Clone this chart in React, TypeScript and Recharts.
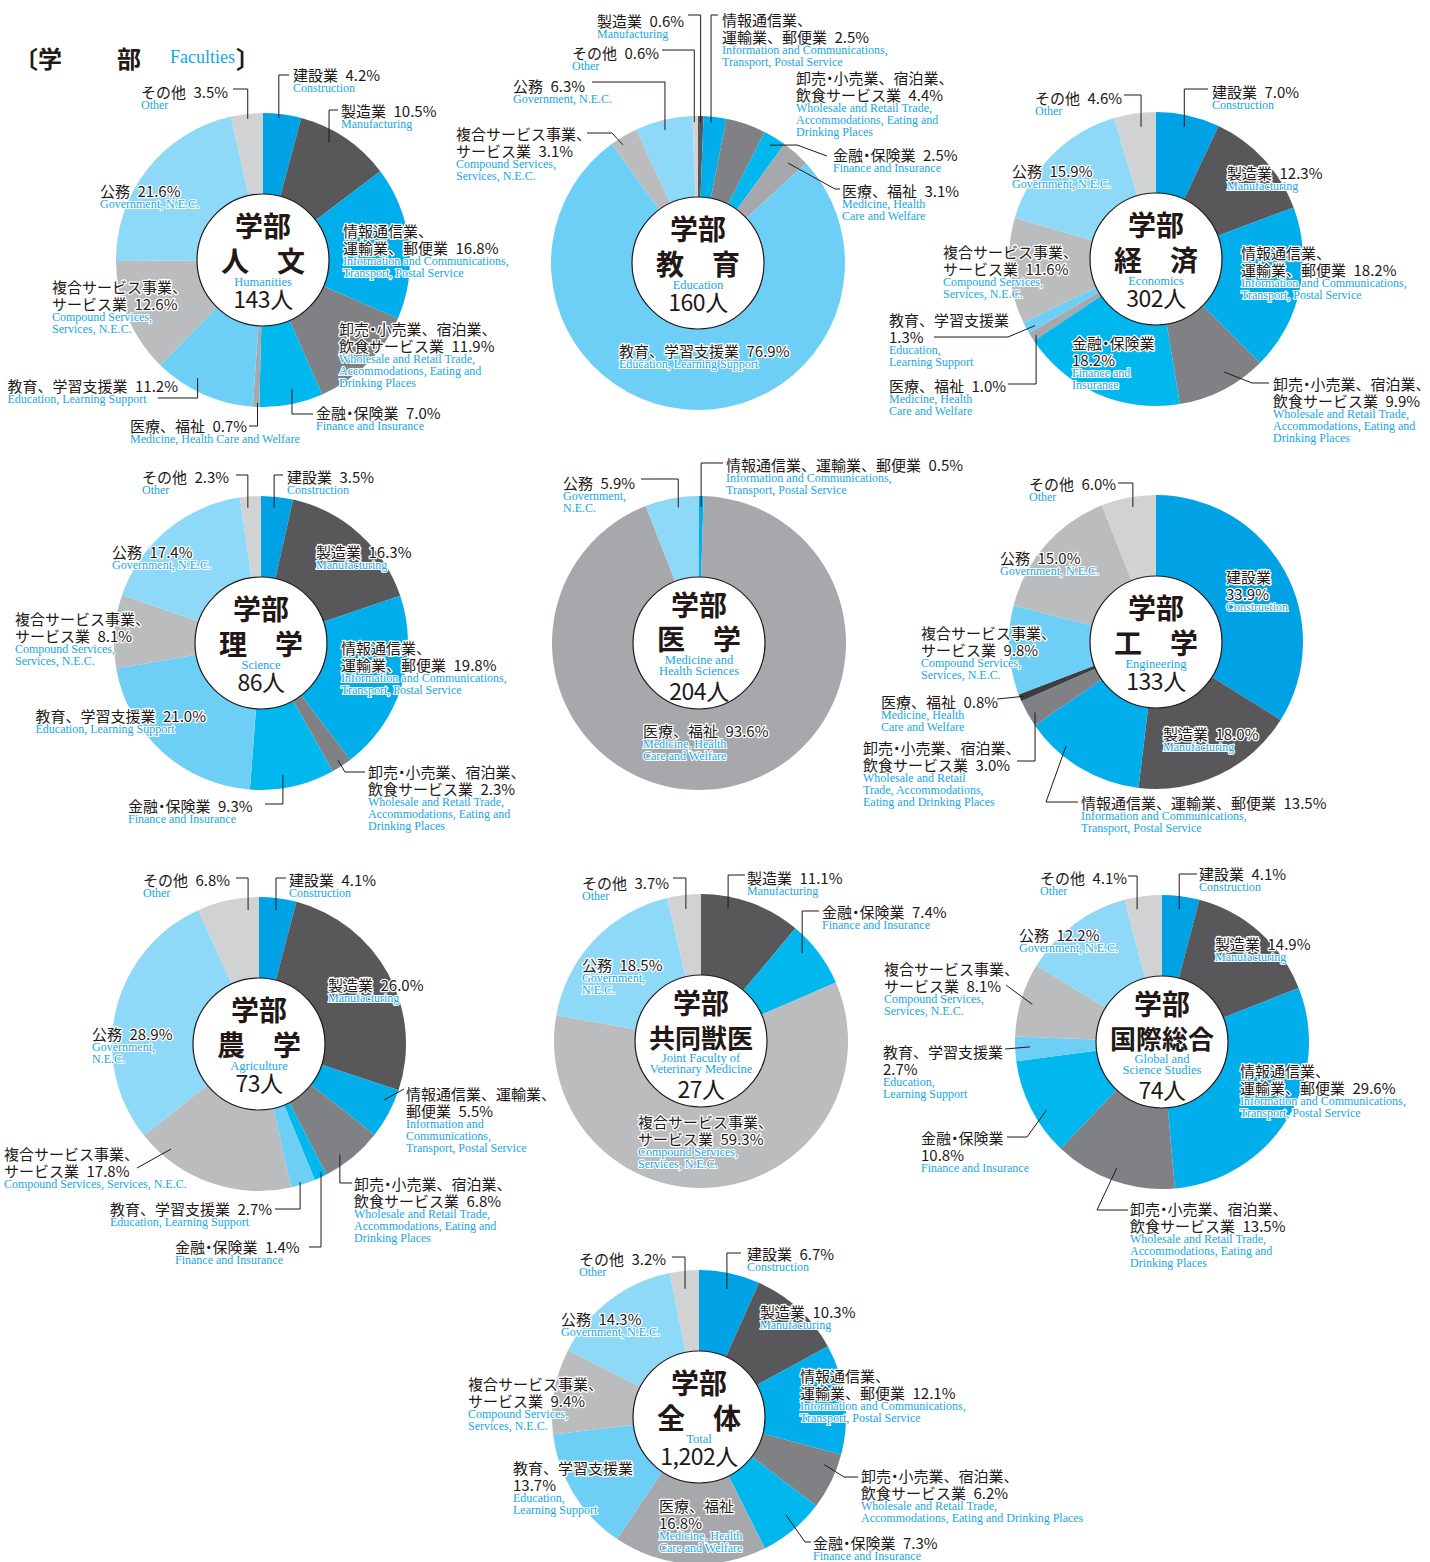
import React from 'react';
import { PieChart, Pie, Cell } from 'recharts';

// industry categories, in the order the slices run clockwise from 12 o'clock
const CATEGORIES = [
  '建設業', '製造業', '情報通信業、運輸業、郵便業', '卸売・小売業、宿泊業、飲食サービス業', '金融・保険業',
  '医療、福祉', '教育、学習支援業', '複合サービス事業、サービス業', '公務', 'その他',
];

// share of graduates (%) per category, 0 = no slice
const humanities = [4.2, 10.5, 16.8, 11.9, 7.0, 0.7, 11.2, 12.6, 21.6, 3.5];
const education = [0, 0.6, 2.5, 4.4, 2.5, 3.1, 76.9, 3.1, 6.3, 0.6];
const economics = [7.0, 12.3, 18.2, 9.9, 18.2, 1.0, 1.3, 11.6, 15.9, 4.6];
const science = [3.5, 16.3, 19.8, 2.3, 9.3, 0, 21.0, 8.1, 17.4, 2.3];
const medicine = [0, 0, 0.5, 0, 0, 93.6, 0, 0, 5.9, 0];
const engineering = [33.9, 18.0, 13.5, 3.0, 0, 0.8, 0, 9.8, 15.0, 6.0];
const agriculture = [4.1, 26.0, 5.5, 6.8, 1.4, 0, 2.7, 17.8, 28.9, 6.8];
const veterinary = [0, 11.1, 0, 0, 7.4, 0, 0, 59.3, 18.5, 3.7];
const globalStudies = [4.1, 14.9, 29.6, 13.5, 10.8, 0, 2.7, 8.1, 12.2, 4.1];
const total = [6.7, 10.3, 12.1, 6.2, 7.3, 16.8, 13.7, 9.4, 14.3, 3.2];

const SHARES = [humanities, education, economics, science, medicine, engineering, agriculture, veterinary, globalStudies, total];
const FACULTIES = ['人文', '教育', '経済', '理学', '医学', '工学', '農学', '共同獣医', '国際総合', '全体'];
const FACULTIES_EN = [
  ['Humanities'], ['Education'], ['Economics'], ['Science'], ['Medicine and', 'Health Sciences'],
  ['Engineering'], ['Agriculture'], ['Joint Faculty of', 'Veterinary Medicine'], ['Global and', 'Science Studies'], ['Total'],
];
const GRADUATES = [143, 160, 302, 86, 204, 133, 73, 27, 74, 1202];

// default label text per category ({v} = percentage)
const JP_TPL = [
  ['建設業 {v}'], ['製造業 {v}'], ['情報通信業、', '運輸業、郵便業 {v}'], ['卸売・小売業、宿泊業、', '飲食サービス業 {v}'],
  ['金融・保険業 {v}'], ['医療、福祉 {v}'], ['教育、学習支援業 {v}'], ['複合サービス事業、', 'サービス業 {v}'], ['公務 {v}'], ['その他 {v}'],
];
const EN_TPL = [
  ['Construction'], ['Manufacturing'], ['Information and Communications,', 'Transport, Postal Service'],
  ['Wholesale and Retail Trade,', 'Accommodations, Eating and', 'Drinking Places'], ['Finance and Insurance'],
  ['Medicine, Health', 'Care and Welfare'], ['Education, Learning Support'], ['Compound Services,', 'Services, N.E.C.'],
  ['Government, N.E.C.'], ['Other'],
];

const W = 1430;
const H = 1562;
const R = 147;
const INK = '#231815';
const CYAN = '#18a6e3';
const JP_FONT = "'Noto Sans CJK JP', 'Noto Sans', sans-serif";
const EN_FONT = "'Liberation Serif', 'DejaVu Serif', serif";

const PALETTE = ['#00a2e6', '#58585a', '#00aeec', '#808184', '#00b8ee', '#a6a8ab', '#6dcff6', '#babcbe', '#8ed8f8', '#d1d2d4'];

type Pt = [number, number];
type Lead = { from: Pt; via?: Pt[]; t: number; r: number; elbow?: boolean };
type Lab = { x: number; y: number; jp?: string[]; en?: string[]; lead?: Lead };
type PieLayout = { cx: number; cy: number; colors?: Record<number, string>; labels: Record<number, Lab> };

const LAYOUT: PieLayout[] = [
  { cx: 263, cy: 260, labels: {
    0: { x: 293, y: 73.5, lead: { from: [289, 75], t: 0.42, r: 143, elbow: true } },
    1: { x: 341, y: 110, lead: { from: [338, 110], t: 0.375, r: 135, elbow: true } },
    2: { x: 343, y: 229.5 },
    3: { x: 339, y: 328 },
    4: { x: 316, y: 412, lead: { from: [313, 414], t: 0.44, r: 132, elbow: true } },
    5: { x: 130, y: 425, en: ['Medicine, Health Care and Welfare'], lead: { from: [249, 426], t: 0.3, r: 143, elbow: true } },
    6: { x: 7.5, y: 385, lead: { from: [158, 398], t: 0.62, r: 135, elbow: true } },
    7: { x: 52, y: 286 },
    8: { x: 100, y: 190 },
    9: { x: 141, y: 91, lead: { from: [233, 89], t: 0.51, r: 142, elbow: true } },
  } },
  { cx: 698, cy: 263, labels: {
    1: { x: 597, y: 20, lead: { from: [688, 15], t: 0.5, r: 140, elbow: true } },
    2: { x: 722, y: 19, lead: { from: [718, 15], t: 0.35, r: 141, elbow: true } },
    3: { x: 796, y: 77 },
    4: { x: 833, y: 154, lead: { from: [827, 156], via: [[797, 145]], t: 0.49, r: 138 } },
    5: { x: 842, y: 190, lead: { from: [840, 189], via: [[835, 189]], t: 0.54, r: 134.5 } },
    6: { x: 619, y: 350 },
    7: { x: 456, y: 133, lead: { from: [587, 133], via: [[612, 133]], t: 0.32, r: 140 } },
    8: { x: 513, y: 85, lead: { from: [592, 82], t: 0.48, r: 137, elbow: true } },
    9: { x: 572, y: 52, lead: { from: [662, 50], t: 0.3, r: 141, elbow: true } },
  } },
  { cx: 1156, cy: 259, labels: {
    0: { x: 1212, y: 91, lead: { from: [1208, 89], t: 0.48, r: 135, elbow: true } },
    1: { x: 1227, y: 172 },
    2: { x: 1241, y: 252 },
    3: { x: 1273, y: 383, lead: { from: [1269, 383], via: [[1252, 383]], t: 0.39, r: 132 } },
    4: { x: 1072, y: 342, jp: ['金融・保険業', '{v}'], en: ['Finance and', 'Insurance'] },
    5: { x: 889, y: 385, lead: { from: [1008, 384], t: 0.4, r: 142, elbow: true } },
    6: { x: 889, y: 319, jp: ['教育、学習支援業', '{v}'], en: ['Education,', 'Learning Support'], lead: { from: [934, 337], via: [[1008, 337]], t: 0.3, r: 138 } },
    7: { x: 943, y: 251 },
    8: { x: 1012, y: 170 },
    9: { x: 1035, y: 97, lead: { from: [1124, 95], t: 0.61, r: 133, elbow: true } },
  } },
  { cx: 261, cy: 643, labels: {
    0: { x: 287, y: 476, lead: { from: [283, 475], t: 0.44, r: 136, elbow: true } },
    1: { x: 316, y: 551 },
    2: { x: 341, y: 647 },
    3: { x: 368, y: 771, lead: { from: [365, 772], via: [[345, 772]], t: 0.5, r: 140 } },
    4: { x: 128, y: 805, lead: { from: [265, 804], t: 0.59, r: 134, elbow: true } },
    6: { x: 35.5, y: 715 },
    7: { x: 15, y: 618 },
    8: { x: 112, y: 551 },
    9: { x: 142, y: 476, lead: { from: [236, 475], t: 0.33, r: 136, elbow: true } },
  } },
  { cx: 699, cy: 643, labels: {
    2: { x: 726, y: 464, jp: ['情報通信業、運輸業、郵便業 {v}'], lead: { from: [723, 463], t: 0.5, r: 136, elbow: true } },
    5: { x: 643, y: 730 },
    8: { x: 563, y: 482, en: ['Government,', 'N.E.C.'], lead: { from: [641, 479], t: 0.59, r: 137, elbow: true } },
  } },
  { cx: 1156, cy: 642, colors: { 5: '#3e3e40', 7: '#6dcff6', 8: '#babcbe' }, labels: {
    0: { x: 1226, y: 576, jp: ['建設業', '{v}'] },
    1: { x: 1163, y: 733 },
    2: { x: 1081, y: 802, jp: ['情報通信業、運輸業、郵便業 {v}'], lead: { from: [1078, 802], via: [[1046, 802]], t: 0.7, r: 137.5 } },
    3: { x: 863, y: 747, en: ['Wholesale and Retail', 'Trade, Accommodations,', 'Eating and Drinking Places'], lead: { from: [1017, 761], t: 0.4, r: 140, elbow: true } },
    5: { x: 881, y: 701, lead: { from: [997, 699], t: 0.5, r: 143 } },
    7: { x: 921, y: 632 },
    8: { x: 1000, y: 557 },
    9: { x: 1029, y: 483, lead: { from: [1118, 483], t: 0.55, r: 137, elbow: true } },
  } },
  { cx: 259, cy: 1044, labels: {
    0: { x: 289, y: 879, lead: { from: [286, 878], t: 0.49, r: 135, elbow: true } },
    1: { x: 328, y: 984 },
    2: { x: 406, y: 1093, jp: ['情報通信業、運輸業、', '郵便業 {v}'], en: ['Information and', 'Communications,', 'Transport, Postal Service'], lead: { from: [404, 1089], t: 0.29, r: 137 } },
    3: { x: 354, y: 1183, lead: { from: [352, 1183], t: 0.64, r: 137, elbow: true } },
    4: { x: 175, y: 1246, lead: { from: [309, 1247], t: 0.29, r: 142, elbow: true } },
    6: { x: 110, y: 1208, lead: { from: [275, 1209], t: 0.59, r: 144, elbow: true } },
    7: { x: 4, y: 1153, en: ['Compound Services, Services, N.E.C.'], lead: { from: [137, 1168], t: 0.82, r: 137 } },
    8: { x: 92, y: 1033, en: ['Government,', 'N.E.C.'] },
    9: { x: 143, y: 879, lead: { from: [236, 878], t: 0.81, r: 134.5, elbow: true } },
  } },
  { cx: 701, cy: 1041, labels: {
    1: { x: 747, y: 877, lead: { from: [745, 875], t: 0.29, r: 135, elbow: true } },
    4: { x: 822, y: 911, lead: { from: [819, 911], t: 0.34, r: 134, elbow: true } },
    7: { x: 638, y: 1121 },
    8: { x: 582, y: 964, en: ['Government,', 'N.E.C.'] },
    9: { x: 582, y: 882, lead: { from: [673, 878], t: 0.51, r: 133, elbow: true } },
  } },
  { cx: 1162, cy: 1042, labels: {
    0: { x: 1199, y: 873, lead: { from: [1197, 874], t: 0.5, r: 134, elbow: true } },
    1: { x: 1215, y: 943 },
    2: { x: 1240, y: 1070 },
    3: { x: 1130, y: 1208, lead: { from: [1128, 1210], via: [[1097, 1210]], t: 0.51, r: 134 } },
    4: { x: 921, y: 1137, jp: ['金融・保険業', '{v}'], lead: { from: [1007, 1137], via: [[1027, 1137]], t: 0.41, r: 134 } },
    6: { x: 883, y: 1051, jp: ['教育、学習支援業', '{v}'], en: ['Education,', 'Learning Support'], lead: { from: [1005, 1049], t: 0.56, r: 132 } },
    7: { x: 884, y: 968, lead: { from: [1006, 985], t: 0.48, r: 135 } },
    8: { x: 1019, y: 934 },
    9: { x: 1040, y: 877, lead: { from: [1128, 876], t: 0.28, r: 135, elbow: true } },
  } },
  { cx: 699, cy: 1417, labels: {
    0: { x: 747, y: 1253, lead: { from: [741, 1253], t: 0.51, r: 131, elbow: true } },
    1: { x: 760, y: 1311 },
    2: { x: 800, y: 1375 },
    3: { x: 861, y: 1475, en: ['Wholesale and Retail Trade,', 'Accommodations, Eating and Drinking Places'], lead: { from: [858, 1477], via: [[844, 1477]], t: 0.27, r: 134 } },
    4: { x: 813, y: 1542, lead: { from: [811, 1542], via: [[805, 1542]], t: 0.43, r: 131 } },
    5: { x: 659, y: 1505, jp: ['医療、福祉', '{v}'] },
    6: { x: 513, y: 1467, jp: ['教育、学習支援業', '{v}'], en: ['Education,', 'Learning Support'] },
    7: { x: 468, y: 1383 },
    8: { x: 561, y: 1318 },
    9: { x: 579, y: 1258, lead: { from: [672, 1257], t: 0.46, r: 129, elbow: true } },
  } },
];

const halo = { paintOrder: 'stroke' as const };

// the middle dot is set half width in the original
function jpLine(s: string) {
  const parts = s.split('・');
  return parts.flatMap((part, k) =>
    k === 0
      ? [<tspan key={'p' + k}>{part}</tspan>]
      : [<tspan key={'d' + k} dx={-3.8}>・</tspan>, <tspan key={'p' + k} dx={-3.8}>{part}</tspan>],
  );
}

function makeLabel(li: number) {
  const pie = LAYOUT[li];
  return (p: any) => {
    const cat = p?.payload?.cat ?? p.cat;
    const lab = pie.labels[cat];
    if (!lab) return null;
    const pct = `${Number(p.value).toFixed(1)}%`;
    const jp = (lab.jp ?? JP_TPL[cat]).map(s => s.replace(' {v}', '\u2002' + pct).replace('{v}', pct));
    const en = lab.en ?? EN_TPL[cat];
    let lead = null;
    if (lab.lead) {
      const { from, via = [], t, r, elbow } = lab.lead;
      const s = p.startAngle ?? p.midAngle;
      const e = p.endAngle ?? p.midAngle;
      const a = ((s + (e - s) * t) * Math.PI) / 180;
      const px = pie.cx + r * Math.cos(a);
      const py = pie.cy - r * Math.sin(a);
      const pts: Pt[] = [from, ...via];
      if (elbow) pts.push([px, pts[pts.length - 1][1]]);
      pts.push([px, py]);
      lead = <polyline points={pts.map(q => q.join(',')).join(' ')} fill="none" stroke={INK} strokeWidth={1} />;
    }
    const enY = lab.y + (jp.length - 1) * 17 + 14;
    return (
      <g>
        {lead}
        {jp.map((s, i) => (
          <text key={'j' + i} x={lab.x} y={lab.y + i * 17} dominantBaseline="central" fontFamily={JP_FONT} fontSize={15}
            fill={INK} stroke="#fff" strokeWidth={2.6} strokeLinejoin="round" style={halo}>{jpLine(s)}</text>
        ))}
        {en.map((s, i) => (
          <text key={'e' + i} x={lab.x} y={enY + i * 12} dominantBaseline="central" fontFamily={EN_FONT} fontSize={12}
            fill={CYAN} stroke="#fff" strokeWidth={2.2} strokeLinejoin="round" style={halo}>{s}</text>
        ))}
      </g>
    );
  };
}

function CenterDisc({ i }: { i: number }) {
  const { cx, cy } = LAYOUT[i];
  const name = FACULTIES[i].length === 2 ? FACULTIES[i][0] + '\u3000' + FACULTIES[i][1] : FACULTIES[i];
  const en = FACULTIES_EN[i];
  const two = en.length === 2;
  const nameSize = FACULTIES[i].length === 2 ? 28 : 26;
  return (
    <g>
      <circle cx={cx} cy={cy} r={66} fill="#fff" stroke={INK} strokeWidth={1.2} />
      <text x={cx} y={cy + (two ? -39 : -35)} textAnchor="middle" dominantBaseline="central" fontFamily={JP_FONT} fontSize={28} fontWeight={700} fill={INK}>学部</text>
      <text x={cx} y={cy + (two ? -5 : 0)} textAnchor="middle" dominantBaseline="central" fontFamily={JP_FONT} fontSize={nameSize} fontWeight={700} fill={INK}>{name}</text>
      {en.map((s, k) => (
        <text key={k} x={cx} y={cy + (two ? 16.5 + k * 11.5 : 22)} textAnchor="middle" dominantBaseline="central" fontFamily={EN_FONT} fontSize={12.5} fill={CYAN}>{s}</text>
      ))}
      <text x={cx} y={cy + (two ? 47 : 38)} textAnchor="middle" dominantBaseline="central" fontFamily={JP_FONT} fontSize={23} letterSpacing={-0.5} fill={INK}>
        {GRADUATES[i].toLocaleString('en-US')}人
      </text>
    </g>
  );
}

export default function App() {
  return (
    <div style={{ position: 'absolute', left: 0, top: 0, width: W, height: H, background: '#fff', overflow: 'hidden' }}>
      <PieChart width={W} height={H} margin={{ top: 0, right: 0, bottom: 0, left: 0 }}>
        {SHARES.map((shares, li) => {
          const rows = shares.map((value, cat) => ({ name: CATEGORIES[cat], cat, value })).filter(d => d.value > 0);
          const colors = LAYOUT[li].colors ?? {};
          return (
            <Pie key={FACULTIES[li]} data={rows} dataKey="value" nameKey="name" cx={LAYOUT[li].cx} cy={LAYOUT[li].cy}
              innerRadius={0} outerRadius={R} startAngle={90} endAngle={-270} stroke="none"
              isAnimationActive={false} labelLine={false} label={makeLabel(li)}>
              {rows.map(d => <Cell key={d.cat} fill={colors[d.cat] ?? PALETTE[d.cat]} />)}
            </Pie>
          );
        })}
      </PieChart>
      <svg width={W} height={H} style={{ position: 'absolute', left: 0, top: 0, pointerEvents: 'none' }}>
        <text x={14} y={57} dominantBaseline="central" fontFamily={JP_FONT} fontSize={24} fontWeight={700} fill={INK}>〔学</text>
        <text x={117} y={57} dominantBaseline="central" fontFamily={JP_FONT} fontSize={24} fontWeight={700} fill={INK}>部</text>
        <text x={170} y={57} dominantBaseline="central" fontFamily={EN_FONT} fontSize={18} fill={CYAN}>Faculties</text>
        <text x={236} y={57} dominantBaseline="central" fontFamily={JP_FONT} fontSize={24} fontWeight={700} fill={INK}>〕</text>
        {FACULTIES.map((f, i) => <CenterDisc key={f} i={i} />)}
      </svg>
    </div>
  );
}
